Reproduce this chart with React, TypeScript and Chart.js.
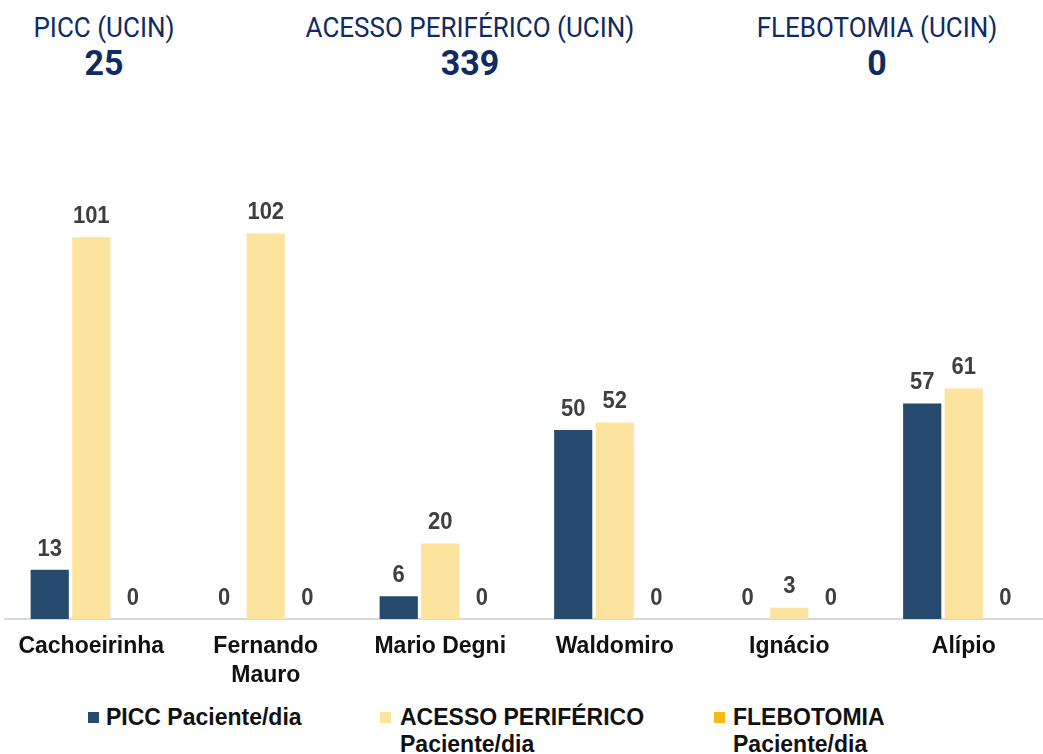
import React, { useEffect, useRef } from "react";
import { Chart, registerables } from "chart.js";

Chart.register(...registerables);

const categories: (string | string[])[] = [
  "Cachoeirinha",
  ["Fernando", "Mauro"],
  "Mario Degni",
  "Waldomiro",
  "Ignácio",
  "Alípio",
];
const piccValues = [13, 0, 6, 50, 0, 57];
const acessoValues = [101, 102, 20, 52, 3, 61];
const flebotomiaValues = [0, 0, 0, 0, 0, 0];

const seriesNames = ["PICC Paciente/dia", "ACESSO PERIFÉRICO Paciente/dia", "FLEBOTOMIA Paciente/dia"];
const seriesColors = ["#274b6f", "#fce39e", "#fdb913"];

const kpiLabels = ["PICC (UCIN)", "ACESSO PERIFÉRICO (UCIN)", "FLEBOTOMIA (UCIN)"];
const kpiValues = ["25", "339", "0"];

const NAVY = "#102b63";

const valueLabelPlugin = {
  id: "valueLabels",
  afterDatasetsDraw(chart: any) {
    const ctx = chart.ctx;
    chart.data.datasets.forEach((ds: any, i: number) => {
      const meta = chart.getDatasetMeta(i);
      meta.data.forEach((el: any, j: number) => {
        const v = ds.data[j];
        ctx.save();
        ctx.font = "bold 22px 'Liberation Sans', Arial, sans-serif";
        ctx.fillStyle = "#3f3f3f";
        ctx.textAlign = "center";
        ctx.textBaseline = "middle";
        ctx.translate(el.x, el.y - 21);
        ctx.scale(1, 1.12);
        ctx.fillText(String(v), 0, 0);
        ctx.restore();
      });
    });
  },
};

export default function App() {
  const canvasRef = useRef<HTMLCanvasElement | null>(null);

  useEffect(() => {
    document.body.style.margin = "0";
    document.body.style.overflow = "hidden";
    const chart = new Chart(canvasRef.current!, {
      type: "bar",
      data: {
        labels: categories,
        datasets: [
          { label: seriesNames[0], data: piccValues, backgroundColor: seriesColors[0] },
          { label: seriesNames[1], data: acessoValues, backgroundColor: seriesColors[1] },
          { label: seriesNames[2], data: flebotomiaValues, backgroundColor: seriesColors[2] },
        ],
      },
      options: {
        animation: false,
        responsive: false,
        maintainAspectRatio: false,
        datasets: { bar: { categoryPercentage: 0.714, barPercentage: 0.92 } },
        layout: { padding: { top: 34.3, left: 0, right: 0, bottom: 0 } },
        plugins: { legend: { display: false }, tooltip: { enabled: false } },
        scales: {
          x: {
            grid: { display: false, drawTicks: false },
            border: { display: true, color: "#d9d9d9", width: 2 },
            ticks: {
              color: "#111111",
              padding: 13.6,
              maxRotation: 0,
              autoSkip: false,
              font: { family: "'Liberation Sans', Arial, sans-serif", size: 23, weight: "bold", lineHeight: 1.25 },
            },
            afterFit: (scale: any) => {
              scale.height = 81;
            },
          },
          y: { display: false, min: 0, max: 115 },
        },
      },
      plugins: [valueLabelPlugin],
    });
    return () => chart.destroy();
  }, []);

  const kpiCenters = [104, 470, 877];
  const legendItems = [
    { box: 88, text: 106, lines: ["PICC Paciente/dia"] },
    { box: 380, text: 400, lines: ["ACESSO PERIFÉRICO", "Paciente/dia"] },
    { box: 714, text: 733, lines: ["FLEBOTOMIA", "Paciente/dia"] },
  ];

  return (
    <div style={{ position: "relative", width: 1043, height: 754, overflow: "hidden", background: "#fff" }}>
      {kpiLabels.map((l, i) => (
        <React.Fragment key={l}>
          <div
            style={{
              position: "absolute",
              left: kpiCenters[i] - 200,
              width: 400,
              top: 13,
              height: 30,
              lineHeight: "30px",
              textAlign: "center",
              fontFamily: "Roboto, sans-serif",
              fontSize: 26,
              color: NAVY,
              transform: "scaleY(1.05)",
            }}
          >
            {l}
          </div>
          <div
            style={{
              position: "absolute",
              left: kpiCenters[i] - 200,
              width: 400,
              top: 42,
              height: 40,
              lineHeight: "40px",
              textAlign: "center",
              fontFamily: "Roboto, sans-serif",
              fontWeight: 700,
              fontSize: 34,
              color: NAVY,
              transform: "scaleY(1.05)",
            }}
          >
            {kpiValues[i]}
          </div>
        </React.Fragment>
      ))}
      <canvas
        ref={canvasRef}
        width={1047}
        height={550}
        style={{ position: "absolute", left: 4, top: 150, width: 1047, height: 550 }}
      />
      {legendItems.map((it, i) => (
        <React.Fragment key={i}>
          <div
            style={{
              position: "absolute",
              left: it.box,
              top: 712,
              width: 11,
              height: 11,
              background: seriesColors[i],
            }}
          />
          <div
            style={{
              position: "absolute",
              left: it.text,
              top: 704,
              lineHeight: "27px",
              fontFamily: "'Liberation Sans', Arial, sans-serif",
              fontWeight: 700,
              fontSize: 23,
              color: "#111",
              whiteSpace: "nowrap",
            }}
          >
            {it.lines.map((ln, k) => (
              <div key={k}>{ln}</div>
            ))}
          </div>
        </React.Fragment>
      ))}
    </div>
  );
}
